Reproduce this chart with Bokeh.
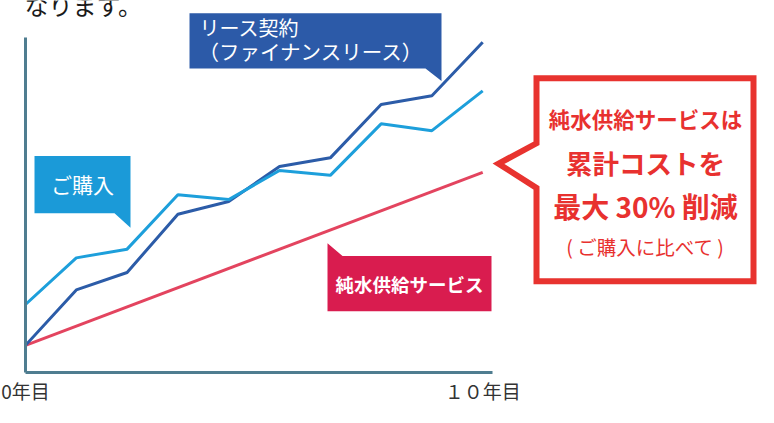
from bokeh.plotting import figure
from bokeh.models import Range1d, FixedTicker, Label
from bokeh.embed import file_html
from bokeh.resources import INLINE

# ---- data (arbitrary cost units) ----
periods = [0, 1, 2, 3, 4, 5, 6, 7, 8, 9]
lease_cost = [28, 85, 103, 163, 176, 212, 221, 276, 285, 340]
purchase_cost = [70, 118, 127, 183, 178, 208, 203, 256, 249, 290]
service_periods = [0, 9]
service_cost = [28, 206]
tick_positions = [0, 9]
tick_labels = ["0年目", "１０年目"]

# ---- layout helpers (positions given in reference-image pixels) ----
FONT = "Noto Sans CJK JP"
W, H = 758, 407
X0, DX = 26.0, 50.8   # ref x of period 0, px per period
Y0 = 383.0            # ref y of cost 0
FRAME_W = W - 25


def dx(px):
    return (px - X0) / DX


def dy(py):
    return Y0 - py


def pts(points):
    return [dx(a) for a, b in points], [dy(b) for a, b in points]


p = figure(width=W, height=H,
           x_range=Range1d(0, FRAME_W / DX), y_range=Range1d(0, dy(0)),
           output_backend="svg", toolbar_location=None,
           min_border_left=25, min_border_right=0,
           min_border_top=0, min_border_bottom=35)
p.outline_line_color = None
p.background_fill_color = "white"
p.border_fill_color = "white"
p.xgrid.visible = False
p.ygrid.visible = False

AXIS_COLOR = "#4f7d90"
p.xaxis.ticker = FixedTicker(ticks=tick_positions)
p.xaxis.major_label_overrides = dict(zip(tick_positions, tick_labels))
p.xaxis.bounds = (0, dx(493))
p.xaxis.major_label_text_font = FONT
p.xaxis.major_label_text_font_size = "19px"
p.xaxis.major_label_text_color = "#333333"
p.xaxis.major_label_standoff = 4
p.yaxis.ticker = FixedTicker(ticks=[])
p.yaxis.bounds = (0, dy(38))
for ax in (p.xaxis, p.yaxis):
    ax.axis_line_color = AXIS_COLOR
    ax.axis_line_width = 3
    ax.major_tick_line_color = None
    ax.minor_tick_line_color = None
    ax.major_tick_out = 0
    ax.minor_tick_out = 0

# ---- series ----
p.line(service_periods, service_cost, line_color="#e3445f", line_width=3)
p.line(periods, lease_cost, line_color="#2c5ca8", line_width=3)
p.line(periods, purchase_cost, line_color="#1d9fdb", line_width=3)

# ---- callout boxes ----
xs, ys = pts([(190, 13), (442, 13), (442, 83), (426, 70), (190, 70)])
p.patch(xs, ys, fill_color="#2c5aa8", line_color=None)
xs, ys = pts([(35, 160), (131, 160), (131, 234), (115, 219), (35, 219)])
p.patch(xs, ys, fill_color="#1b9ad8", line_color=None)
xs, ys = pts([(328, 250), (343, 263), (492, 263), (492, 320), (328, 320)])
p.patch(xs, ys, fill_color="#d91c4f", line_color=None)
xs, ys = pts([(537, 80), (754, 80), (754, 289), (537, 289), (537, 193),
              (499, 168), (537, 147)])
p.patch(xs, ys, fill_color="white", line_color="#e8332f", line_width=6,
        line_join="miter")


def label(px, py, text, size, color, style="normal", align="left"):
    p.add_layout(Label(x=dx(px), y=dy(py), text=text, text_font=FONT,
                       text_font_size=f"{size}px", text_color=color,
                       text_font_style=style, text_align=align,
                       text_baseline="middle"))


label(1, 4, "になります。", 24, "#1a1a1a")
label(200, 28, "リース契約", 20, "#ffffff")
label(199, 52, "（ファイナンスリース）", 20.5, "#ffffff")
label(83, 189, "ご購入", 21, "#ffffff", align="center")
label(410, 292, "純水供給サービス", 18.5, "#ffffff", style="bold", align="center")

RED = "#e8312f"
CX = 646
label(CX, 121, "純水供給サービスは", 21.5, RED, style="bold", align="center")
label(CX, 167, "累計コストを", 26.5, RED, style="bold", align="center")
label(CX, 212, "最大 30% 削減", 28, RED, style="bold", align="center")
label(CX, 253, "( ご購入に比べて )", 19.5, RED, align="center")

open("out.html", "w").write(file_html(p, INLINE))
